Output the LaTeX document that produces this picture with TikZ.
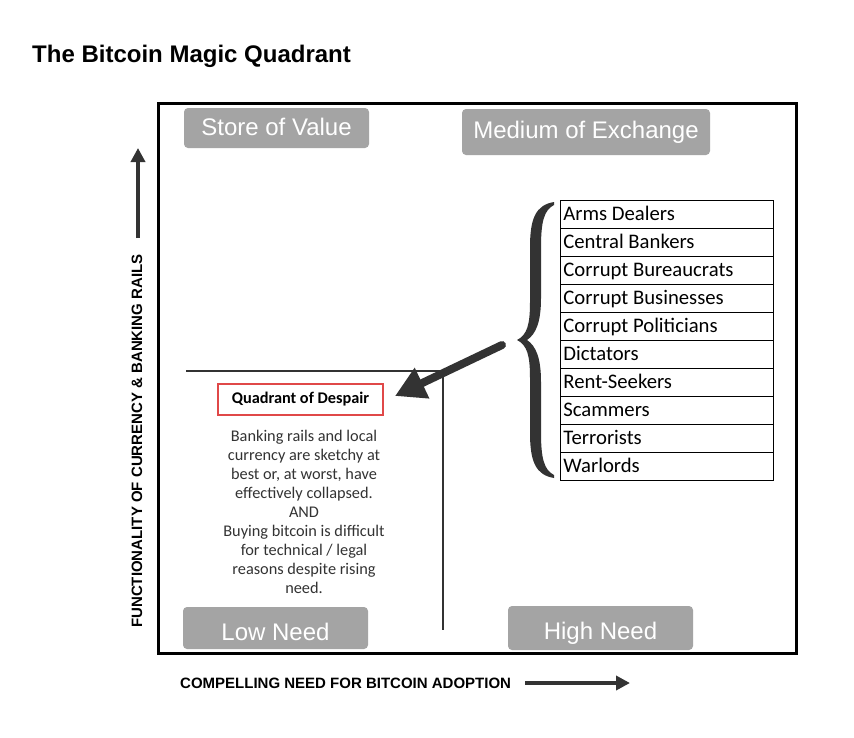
\documentclass[tikz,border=0pt]{standalone}
\usepackage{fontspec}
\setmainfont{Liberation Sans}
\newfontfamily\carlfont{Carlito}
\usetikzlibrary{arrows.meta}
\definecolor{boxgray}{HTML}{A4A4A4}
\definecolor{ink}{HTML}{333333}
\definecolor{despred}{HTML}{E04848}
\begin{document}
\begin{tikzpicture}[x=1pt,y=-1pt,
  labelbox/.style={fill=boxgray, rounded corners=4pt, text=white, inner sep=0pt,
    text depth=0pt, font=\fontsize{24}{28}\selectfont},
  listrow/.style={draw=black, line width=0.8pt, minimum width=213pt, minimum height=28pt,
    anchor=north west, inner xsep=3pt, inner ysep=0pt, text height=15pt, text depth=3pt,
    align=flush left, text width=207pt, font=\carlfont\fontsize{20.7}{24}\selectfont},
  axislabel/.style={font=\bfseries\fontsize{15}{18}\selectfont, inner sep=0pt},
  bigarrow/.style={draw=ink, line width=4.5pt, -{Triangle[length=14pt,width=14pt]}},
  quadline/.style={draw=ink, line width=1.2pt}]
\useasboundingbox (0,0) rectangle (854,737);
\fill[white] (0,0) rectangle (854,737);

% title
\node[anchor=base west, inner sep=0pt, font=\bfseries\fontsize{24}{28}\selectfont] (title) at (32,62) {The Bitcoin Magic Quadrant};

% frame
\node[draw=black, line width=3pt, minimum width=638pt, minimum height=550pt, inner sep=0pt] (frame) at (477,378) {};

% corner labels
\node[labelbox, minimum width=185pt, minimum height=40pt, text height=15.4pt] (sov) at (276.5,128) {Store of Value};
\node[labelbox, minimum width=248pt, minimum height=46pt, text height=12.6pt] (moe) at (586,132) {Medium of Exchange};
\node[labelbox, minimum width=185pt, minimum height=42pt, text height=24pt] (low) at (275.5,628) {Low Need};
\node[labelbox, minimum width=185pt, minimum height=44pt, text height=22.6pt] (high) at (600.5,628) {High Need};

% quadrant lines
\coordinate (hl) at (186,371);
\coordinate (cross) at (443,371);
\coordinate (vb) at (443,630);
\draw[quadline] (hl) -- (cross) -- (vb);

% quadrant of despair
\node[draw=despred, line width=2pt, minimum width=165pt, minimum height=31pt, inner sep=0pt,
  font=\carlfont\bfseries\fontsize{16.3}{19}\selectfont] (qd) at (300.5,399.5) {Quadrant of Despair};
\node[align=center, text=ink, inner sep=0pt, font=\carlfont\fontsize{16.3}{19}\selectfont] (body) at (304,512)
  {Banking rails and local\\currency are sketchy at\\best or, at worst, have\\effectively collapsed.\\AND\\Buying bitcoin is difficult\\for technical / legal\\reasons despite rising\\need.};

% list
\node[listrow] (r1) at (560,200) {Arms Dealers};
\node[listrow] (r2) at (560,228) {Central Bankers};
\node[listrow] (r3) at (560,256) {Corrupt Bureaucrats};
\node[listrow] (r4) at (560,284) {Corrupt Businesses};
\node[listrow] (r5) at (560,312) {Corrupt Politicians};
\node[listrow] (r6) at (560,340) {Dictators};
\node[listrow] (r7) at (560,368) {Rent-Seekers};
\node[listrow] (r8) at (560,396) {Scammers};
\node[listrow] (r9) at (560,424) {Terrorists};
\node[listrow] (r10) at (560,452) {Warlords};

% brace (calligraphic, filled)
\fill[ink]
  (554,202) .. controls (536,205) and (530,218) .. (530,247) -- (530,302)
  .. controls (530,325) and (527,335) .. (517,340)
  .. controls (527,345) and (530,355) .. (530,378) -- (530,433)
  .. controls (530,462) and (536,475) .. (554,478)
  -- (554,475)
  .. controls (544,470) and (541,458) .. (541,433) -- (541,382)
  .. controls (541,358) and (536,346) .. (527,340)
  .. controls (536,334) and (541,322) .. (541,298) -- (541,247)
  .. controls (541,222) and (544,210) .. (554,205) -- cycle;

% arrow from brace to quadrant
\coordinate (btail) at (502,345);
\coordinate (bhead) at (395,396);
\draw[ink, line width=8pt, line cap=round, -{Triangle[length=30pt,width=32pt]}] (btail) -- (bhead);

% axes
\coordinate (upT) at (138,238);
\coordinate (upH) at (138,148);
\draw[bigarrow] (upT) -- (upH);
\node[axislabel, rotate=90] (ylab) at (137,441) {FUNCTIONALITY OF CURRENCY \& BANKING RAILS};
\node[axislabel, anchor=base west] (xlab) at (180,688.5) {COMPELLING NEED FOR BITCOIN ADOPTION};
\coordinate (rtT) at (525,683);
\coordinate (rtH) at (630,683);
\draw[bigarrow] (rtT) -- (rtH);
\end{tikzpicture}
\end{document}
